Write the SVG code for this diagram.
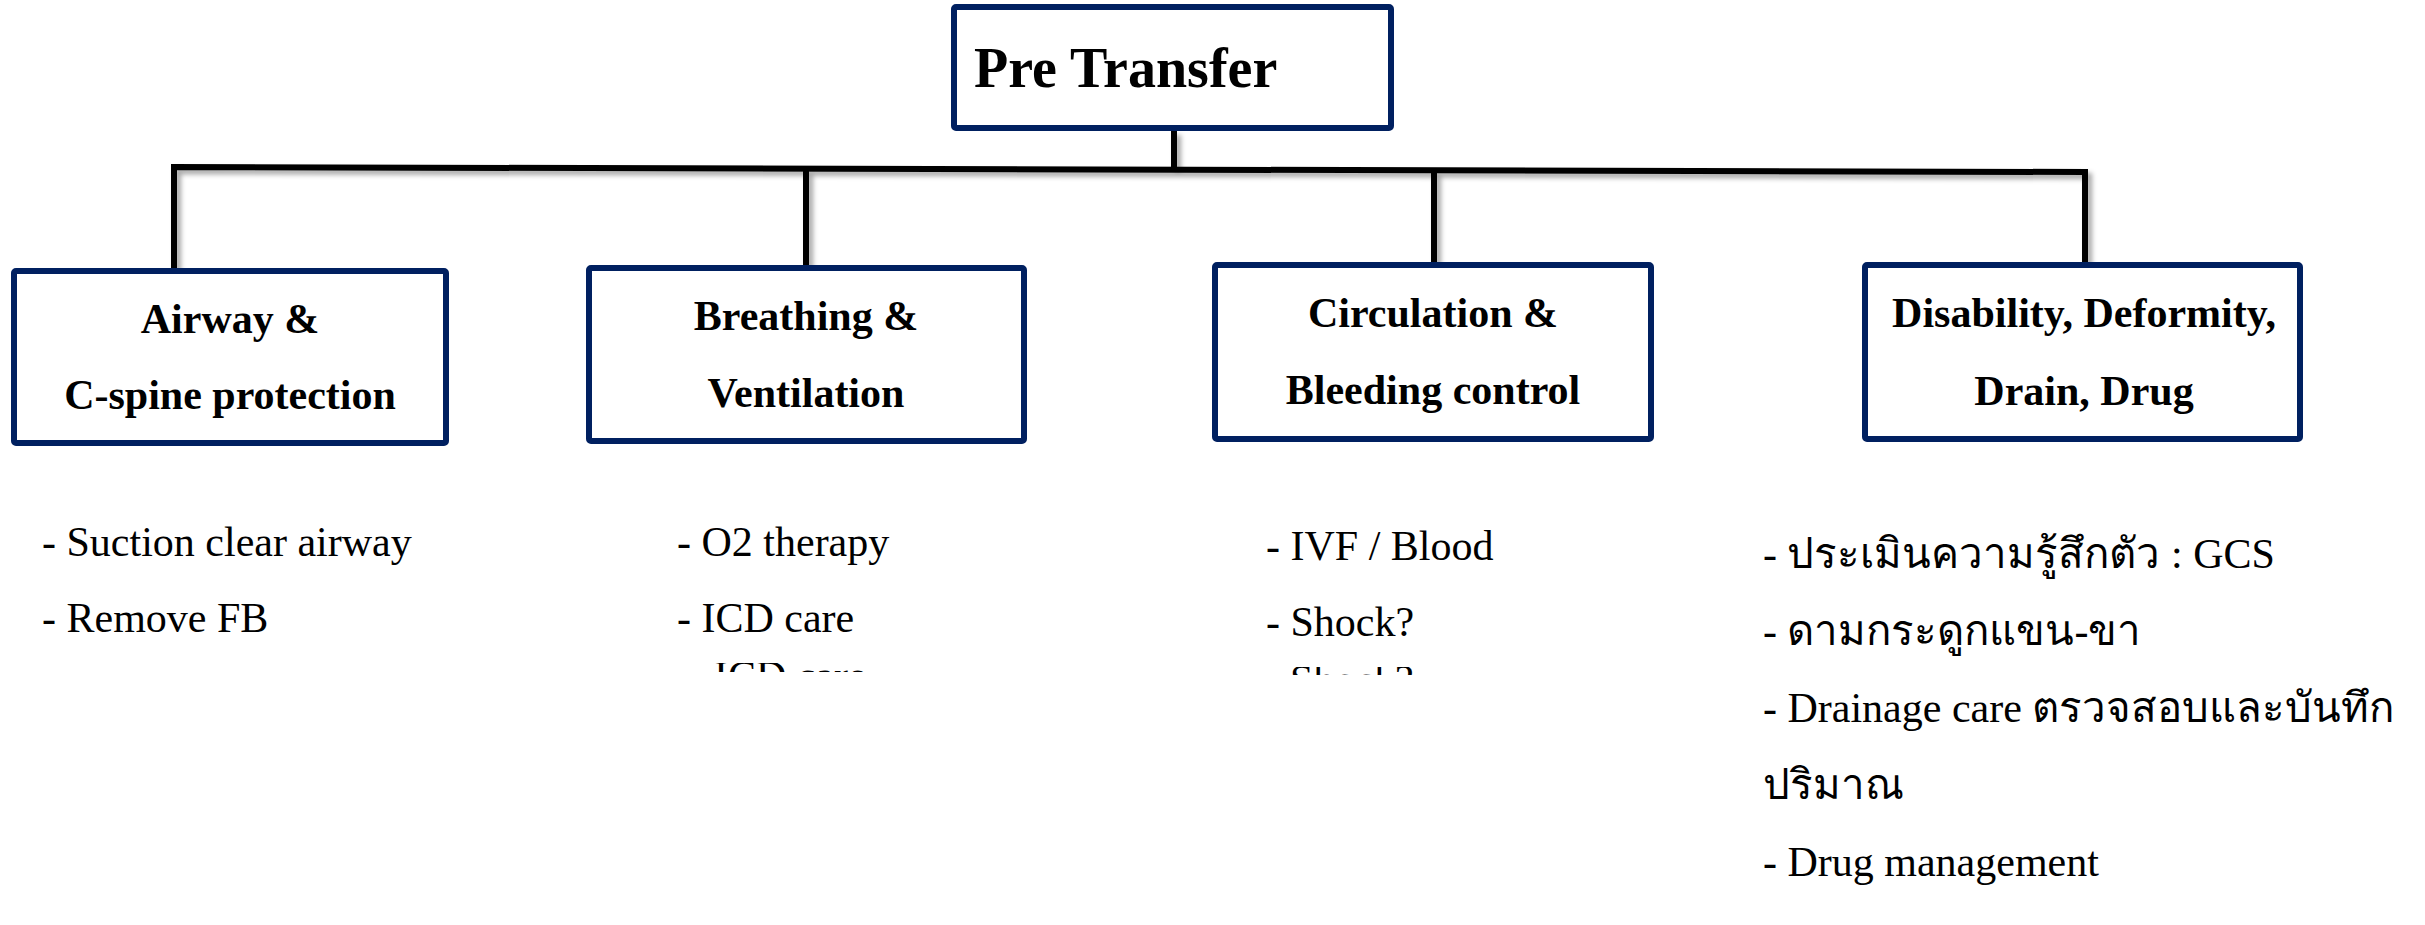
<svg xmlns="http://www.w3.org/2000/svg" width="2425" height="925" viewBox="0 0 2425 925">
<style>
.box{fill:#fff;stroke:#002060;stroke-width:6}
.conn{fill:none;stroke:#000;stroke-width:6;stroke-linecap:butt;stroke-linejoin:miter}
.title{font-family:"Liberation Serif","Times New Roman",serif;font-weight:bold;font-size:42px;fill:#000;text-anchor:middle}
.item{font-family:"Liberation Serif","Times New Roman",serif;font-size:42px;fill:#000}
</style>
<defs>
<filter id="sh" x="-5%" y="-5%" width="110%" height="120%">
<feDropShadow dx="4" dy="4" stdDeviation="2.5" flood-color="#000" flood-opacity="0.35"/>
</filter>
<clipPath id="c1"><rect x="690" y="663" width="200" height="9"/></clipPath>
<clipPath id="c2"><rect x="1260" y="667" width="170" height="8"/></clipPath>
</defs>

<g id="connectors" filter="url(#sh)">
<line class="conn" x1="1174" y1="131" x2="1174" y2="169"/>
<polyline class="conn" points="174,268 174,167 2085,172 2085,263"/>
<line class="conn" x1="806" y1="169" x2="806" y2="266"/>
<line class="conn" x1="1434" y1="170" x2="1434" y2="263"/>
</g>

<g id="pre-transfer">
<rect class="box" x="954" y="7" width="437" height="121" rx="2"/>
<text x="974" y="87" font-family="'Liberation Serif','Times New Roman',serif" font-weight="bold" font-size="56">Pre Transfer</text>
</g>

<g id="airway">
<rect class="box" x="14" y="271" width="432" height="172" rx="2"/>
<text class="title" x="230" y="333">Airway &amp;</text>
<text class="title" x="230" y="409">C-spine protection</text>
</g>

<g id="breathing">
<rect class="box" x="589" y="268" width="435" height="173" rx="2"/>
<text class="title" x="806" y="330">Breathing &amp;</text>
<text class="title" x="806" y="407">Ventilation</text>
</g>

<g id="circulation">
<rect class="box" x="1215" y="265" width="436" height="174" rx="2"/>
<text class="title" x="1433" y="327">Circulation &amp;</text>
<text class="title" x="1433" y="404">Bleeding control</text>
</g>

<g id="disability">
<rect class="box" x="1865" y="265" width="435" height="174" rx="2"/>
<text class="title" x="2084" y="327">Disability, Deformity,</text>
<text class="title" x="2084" y="405">Drain, Drug</text>
</g>

<g id="airway-items">
<text class="item" x="42" y="556">- Suction clear airway</text>
<text class="item" x="42" y="632">- Remove FB</text>
</g>

<g id="breathing-items">
<text class="item" x="677" y="556">- O2 therapy</text>
<text class="item" x="677" y="632">- ICD care</text>
<text class="item" x="714" y="690" clip-path="url(#c1)">ICD care</text>
</g>

<g id="circulation-items">
<text class="item" x="1266" y="560">- IVF / Blood</text>
<text class="item" x="1266" y="636">- Shock?</text>
<text class="item" x="1290" y="694" clip-path="url(#c2)">Shock?</text>
</g>

<g id="disability-items">
<text class="item" x="1763" y="568">- ประเมินความรู้สึกตัว : GCS</text>
<text class="item" x="1763" y="645">- ดามกระดูกแขน-ขา</text>
<text class="item" x="1763" y="722">- Drainage care ตรวจสอบและบันทึก</text>
<text class="item" x="1763" y="799">ปริมาณ</text>
<text class="item" x="1763" y="876">- Drug management</text>
</g>
</svg>
